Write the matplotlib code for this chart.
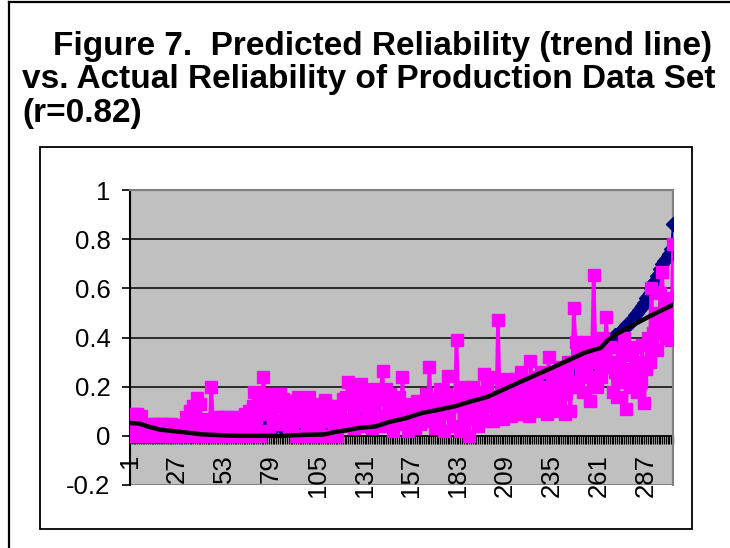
import matplotlib
matplotlib.use("Agg")
import matplotlib.pyplot as plt
from matplotlib.lines import Line2D
from matplotlib.patches import Rectangle
from matplotlib.ticker import FixedLocator, FixedFormatter, NullFormatter

plt.rcParams["font.family"] = ["Liberation Sans", "DejaVu Sans"]

TITLE_LINES = [
    "Figure 7.  Predicted Reliability (trend line)",
    "vs. Actual Reliability of Production Data Set",
    "(r=0.82)",
]

Y_TICKS = [-0.2, 0, 0.2, 0.4, 0.6, 0.8, 1]
Y_TICK_LABELS = ["-0.2", "0", "0.2", "0.4", "0.6", "0.8", "1"]
X_TICKS = [1, 27, 53, 79, 105, 131, 157, 183, 209, 235, 261, 287]
X_TICK_LABELS = ["1", "27", "53", "79", "105", "131", "157", "183", "209", "235", "261", "287"]

# actual reliability (magenta squares), one value per record
actual = [
    0.05, 0.0, 0.09, 0.02, 0.09, 0.0, 0.08, 0.03, 0.0, 0.04,
    0.0, 0.02, 0.0, 0.05, 0.01, 0.05, 0.0, 0.03, 0.05, 0.0,
    0.02, 0.05, 0.0, 0.05, 0.0, 0.015, 0.0, 0.01, 0.0, 0.045,
    0.0, 0.075, 0.02, 0.1, 0.04, 0.12, 0.0, 0.155, 0.05, 0.13,
    0.0, 0.07, 0.03, 0.06, 0.0, 0.2, 0.06, 0.0, 0.075, 0.02,
    0.0, 0.075, 0.0, 0.05, 0.075, 0.0, 0.02, 0.07, 0.0, 0.075,
    0.0, 0.04, 0.075, 0.0, 0.09, 0.02, 0.1, 0.0, 0.12, 0.18,
    0.05, 0.16, 0.0, 0.1, 0.24, 0.09, 0.17, 0.02, 0.15, 0.06,
    0.15, 0.05, 0.12, 0.17, 0.06, 0.15, 0.05, 0.14, 0.04, 0.12,
    0.05, 0.14, 0.0, 0.16, 0.06, 0.13, 0.0, 0.11, 0.05, 0.16,
    0.0, 0.06, 0.11, 0.0, 0.09, 0.04, 0.13, 0.0, 0.145, 0.06,
    0.12, 0.0, 0.1, 0.03, 0.12, 0.0, 0.08, 0.05, 0.15, 0.04,
    0.16, 0.22, 0.07, 0.13, 0.03, 0.18, 0.06, 0.12, 0.21, 0.04,
    0.14, 0.05, 0.17, 0.09, 0.03, 0.19, 0.06, 0.15, 0.04, 0.18,
    0.265, 0.08, 0.19, 0.04, 0.17, 0.1, 0.02, 0.12, 0.07, 0.16,
    0.05, 0.24, 0.09, 0.13, 0.02, 0.12, 0.06, 0.09, 0.03, 0.14,
    0.11, 0.05, 0.12, 0.08, 0.17, 0.1, 0.28, 0.06, 0.13, 0.03,
    0.15, 0.08, 0.19, 0.11, 0.02, 0.17, 0.245, 0.09, 0.15, 0.04,
    0.12, 0.39, 0.14, 0.02, 0.18, 0.2, 0.07, 0.12, 0.0, 0.16,
    0.2, 0.09, 0.14, 0.04, 0.18, 0.1, 0.25, 0.06, 0.2, 0.12,
    0.24, 0.06, 0.15, 0.09, 0.47, 0.13, 0.2, 0.07, 0.17, 0.23,
    0.12, 0.08, 0.2, 0.15, 0.23, 0.1, 0.18, 0.26, 0.09, 0.21,
    0.14, 0.08, 0.305, 0.17, 0.12, 0.24, 0.2, 0.1, 0.26, 0.15,
    0.2, 0.09, 0.32, 0.18, 0.11, 0.25, 0.1, 0.2, 0.14, 0.28,
    0.17, 0.09, 0.23, 0.3, 0.1, 0.2, 0.52, 0.38, 0.22, 0.33,
    0.25, 0.18, 0.3, 0.38, 0.24, 0.14, 0.3, 0.655, 0.35, 0.2,
    0.3, 0.24, 0.4, 0.33, 0.485, 0.28, 0.36, 0.3, 0.18, 0.26,
    0.16, 0.3, 0.22, 0.35, 0.4, 0.11, 0.27, 0.2, 0.33, 0.24,
    0.36, 0.18, 0.3, 0.22, 0.37, 0.135, 0.27, 0.4, 0.3, 0.6,
    0.42, 0.5, 0.35, 0.45, 0.58, 0.667, 0.48, 0.4, 0.56, 0.45,
    0.39, 0.78,
]

# predicted reliability (navy diamonds), mostly hidden behind the actual values
predicted = [
    0.00, 0.00, 0.00, 0.00, 0.00, 0.00, 0.00, 0.00, 0.00, 0.00,
    0.00, 0.00, 0.00, 0.00, 0.00, 0.00, 0.00, 0.00, 0.00, 0.00,
    0.00, 0.00, 0.01, 0.00, 0.00, 0.01, 0.00, 0.01, 0.00, 0.01,
    0.01, 0.00, 0.01, 0.01, 0.00, 0.01, 0.01, 0.02, 0.01, 0.01,
    0.01, 0.02, 0.01, 0.02, 0.01, 0.02, 0.02, 0.01, 0.02, 0.02,
    0.02, 0.02, 0.01, 0.02, 0.02, 0.03, 0.02, 0.02, 0.03, 0.02,
    0.03, 0.02, 0.03, 0.03, 0.02, 0.03, 0.03, 0.03, 0.02, 0.03,
    0.03, 0.04, 0.03, 0.03, 0.04, 0.03, 0.04, 0.04, 0.03, 0.04,
    0.04, 0.04, 0.05, 0.04, 0.04, 0.05, 0.05, 0.04, 0.05, 0.04,
    0.05, 0.05, 0.04, 0.05, 0.05, 0.06, 0.05, 0.05, 0.06, 0.05,
    0.06, 0.05, 0.06, 0.06, 0.065, 0.065, 0.06, 0.05, 0.06, 0.05,
    0.04, 0.04, 0.03, 0.03, 0.04, 0.05, 0.05, 0.06, 0.05, 0.06,
    0.06, 0.05, 0.06, 0.06, 0.07, 0.06, 0.06, 0.07, 0.06, 0.07,
    0.065, 0.065, 0.07, 0.07, 0.06, 0.07, 0.07, 0.08, 0.07, 0.07,
    0.08, 0.07, 0.08, 0.08, 0.07, 0.08, 0.08, 0.09, 0.08, 0.08,
    0.09, 0.08, 0.09, 0.09, 0.08, 0.09, 0.09, 0.10, 0.09, 0.09,
    0.10, 0.10, 0.105, 0.105, 0.10, 0.10, 0.11, 0.10, 0.11, 0.11,
    0.11, 0.12, 0.11, 0.12, 0.12, 0.12, 0.13, 0.12, 0.13, 0.145,
    0.145, 0.145, 0.145, 0.145, 0.145, 0.145, 0.145, 0.15, 0.14, 0.14,
    0.14, 0.15, 0.15, 0.14, 0.15, 0.15, 0.15, 0.14, 0.145, 0.15,
    0.15, 0.16, 0.15, 0.16, 0.16, 0.16, 0.17, 0.16, 0.17, 0.17,
    0.17, 0.18, 0.17, 0.18, 0.18, 0.18, 0.18, 0.19, 0.18, 0.19,
    0.19, 0.19, 0.19, 0.20, 0.19, 0.20, 0.20, 0.20, 0.20, 0.21,
    0.20, 0.21, 0.21, 0.20, 0.19, 0.21, 0.21, 0.22, 0.21, 0.22,
    0.22, 0.22, 0.23, 0.22, 0.23, 0.24, 0.25, 0.24, 0.25, 0.26,
    0.27, 0.28, 0.28, 0.29, 0.28, 0.29, 0.29, 0.30, 0.29, 0.30,
    0.30, 0.31, 0.32, 0.33, 0.35, 0.37, 0.38, 0.39, 0.40, 0.41,
    0.41, 0.42, 0.42, 0.43, 0.44, 0.45, 0.45, 0.46, 0.47, 0.48,
    0.49, 0.50, 0.51, 0.52, 0.53, 0.54, 0.56, 0.57, 0.58, 0.60,
    0.62, 0.63, 0.65, 0.66, 0.68, 0.70, 0.71, 0.72, 0.73, 0.74,
    0.76, 0.86,
]

# trend line at a set of record numbers
trend_x = [1, 6, 11, 17, 24, 34, 41, 52, 60, 72, 85, 98, 109, 115, 122,
           128, 137, 145, 154, 163, 172, 181, 190, 199, 216, 235, 253,
           262, 266, 271, 281, 290, 302]
trend_y = [0.052, 0.05, 0.038, 0.026, 0.02, 0.012, 0.006, 0.002, 0.0, 0.0,
           0.0, 0.004, 0.006, 0.016, 0.024, 0.032, 0.038, 0.057, 0.072,
           0.093, 0.106, 0.12, 0.14, 0.158, 0.215, 0.277, 0.338, 0.358,
           0.39, 0.415, 0.455, 0.49, 0.533]

records = list(range(1, len(actual) + 1))

W, H = 730, 548
fig = plt.figure(figsize=(W / 100, H / 100), dpi=100)

# page frame and chart frame
fig.add_artist(Line2D([9 / W, 9 / W], [0, 1 - 1.5 / H], color="black", lw=1.6))
fig.add_artist(Line2D([9 / W, 1], [1 - 1.5 / H, 1 - 1.5 / H], color="black", lw=1.6))
fig.add_artist(Rectangle((40 / W, 1 - 529 / H), (692 - 40) / W, (529 - 147) / H,
                         fill=False, edgecolor="black", lw=1.3))

title_size = 24
fig.text(53 / W, 1 - 55 / H, TITLE_LINES[0], fontsize=title_size, fontweight="bold", va="baseline")
fig.text(22 / W, 1 - 88 / H, TITLE_LINES[1], fontsize=title_size, fontweight="bold", va="baseline")
fig.text(22 / W, 1 - 122 / H, TITLE_LINES[2], fontsize=title_size, fontweight="bold", va="baseline")

ax = fig.add_axes([130 / W, 1 - 485 / H, (673 - 130) / W, (485 - 190) / H])
ax.set_facecolor("#C0C0C0")

ax.plot(records, predicted, color="#000080", lw=1.5, marker="D", markersize=7.5,
        markerfacecolor="#000080", markeredgecolor="#000080", zorder=3)
ax.plot(records, actual, color="#FF00FF", lw=2.6, marker="s", markersize=8.8,
        markerfacecolor="#FF00FF", markeredgecolor="#FF00FF", zorder=4)
ax.plot(trend_x, trend_y, color="black", lw=3.2, zorder=5)

ax.set_xlim(1, len(records))
ax.set_ylim(-0.2, 1)

ax.set_yticks(Y_TICKS)
ax.set_yticklabels(Y_TICK_LABELS)
for y in Y_TICKS[2:-1]:
    ax.axhline(y, color="#202020", lw=1.3, zorder=1)

ax.xaxis.set_major_locator(FixedLocator(X_TICKS))
ax.xaxis.set_major_formatter(FixedFormatter(X_TICK_LABELS))
ax.xaxis.set_minor_locator(FixedLocator(records))
ax.xaxis.set_minor_formatter(NullFormatter())

ax.spines["bottom"].set_position(("data", 0))
ax.spines["bottom"].set_color("black")
ax.spines["bottom"].set_linewidth(1.3)
ax.spines["bottom"].set_zorder(2)
ax.spines["left"].set_color("black")
ax.spines["left"].set_linewidth(1.5)
for side in ("top", "right"):
    ax.spines[side].set_color("#808080")
    ax.spines[side].set_linewidth(1.5)
ax.add_patch(Rectangle((0, 0), 1, 1, transform=ax.transAxes, fill=False,
                       edgecolor="#808080", lw=1.5, zorder=0.5))

ax.tick_params(axis="y", direction="out", length=6, width=1.2, pad=8, labelsize=18.5)
ax.tick_params(axis="x", which="both", direction="out", length=6, width=0.9)
ax.tick_params(axis="x", which="major", pad=7, labelsize=18.5, labelrotation=90)

fig.savefig("out.png", dpi=100)
